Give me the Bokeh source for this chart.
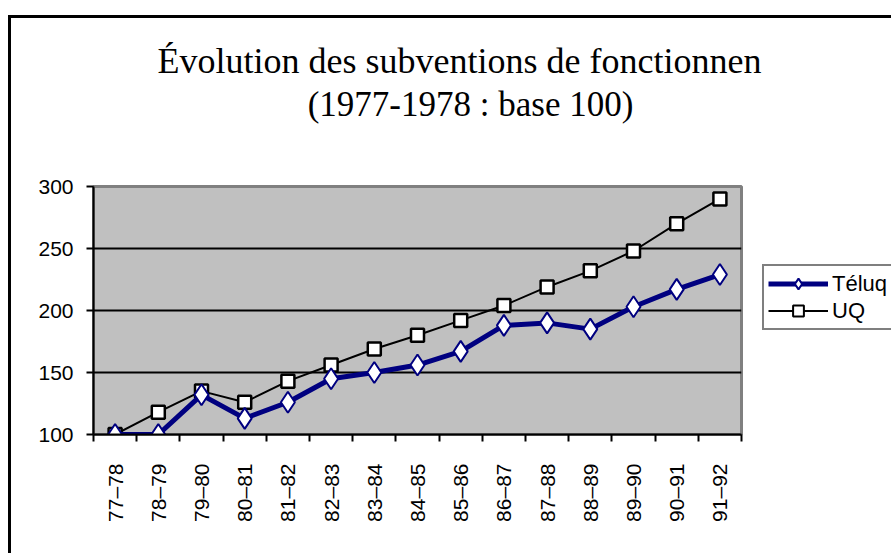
import math
from bokeh.plotting import figure
from bokeh.layouts import column, row
from bokeh.models import (FixedTicker, Legend, LegendItem, Label,
                          ColumnDataSource, Range1d)
from bokeh.embed import file_html
from bokeh.resources import INLINE

# ---- data ----
categories = ["77–78", "78–79", "79–80", "80–81", "81–82", "82–83", "83–84",
              "84–85", "85–86", "86–87", "87–88", "88–89", "89–90", "90–91", "91–92"]
teluq = [100, 100, 132, 113, 126, 145, 150, 156, 167, 188, 190, 185, 203, 217, 229]
uq = [100, 118, 135, 126, 143, 156, 169, 180, 192, 204, 219, 232, 248, 270, 290]
y_ticks = [100, 150, 200, 250, 300]
series_names = ["Téluq", "UQ"]
title_line1 = "Évolution des subventions de fonctionnen"
title_line2 = "(1977-1978 : base 100)"

NAVY = "#000080"
W, H = 891, 553
TOP_H = 170          # height of the title strip
MAIN_W = 750         # width of the plotting figure
B_TOP, B_BOT = 186 - TOP_H, 553 - 434   # plot-area borders inside the lower row

def bare(width, height, top=0, bottom=0):
    f = figure(width=width, height=height, output_backend="svg", toolbar_location=None,
               x_range=Range1d(0, width), y_range=Range1d(height - top - bottom, 0),
               x_axis_location=None, y_axis_location=None,
               min_border_left=0, min_border_right=0,
               min_border_top=top, min_border_bottom=bottom)
    f.grid.visible = False
    f.outline_line_color = None
    f.background_fill_alpha = 0
    f.border_fill_alpha = 0
    return f

# ---- title strip ----
top = bare(W, TOP_H)
top.add_layout(Label(x=157, y=60, text=title_line1, text_font="Liberation Serif",
                     text_font_size="36px", text_color="black",
                     text_align="left", text_baseline="alphabetic"))
top.add_layout(Label(x=470, y=104, text=title_line2, text_font="Liberation Serif",
                     text_font_size="35px", text_color="black",
                     text_align="center", text_baseline="alphabetic"))

# ---- main plot ----
xpos = [i + 0.5 for i in range(len(categories))]
src = ColumnDataSource(dict(x=xpos, teluq=teluq, uq=uq))

p = figure(width=MAIN_W, height=H - TOP_H, output_backend="svg", toolbar_location=None,
           x_range=Range1d(0, len(categories)), y_range=Range1d(100, 300),
           min_border_left=93, min_border_right=9, min_border_top=B_TOP,
           min_border_bottom=B_BOT)
p.background_fill_color = "#C0C0C0"
p.border_fill_alpha = 0
p.outline_line_color = "#808080"
p.outline_line_width = 3

p.xgrid.visible = False
p.ygrid.ticker = FixedTicker(ticks=y_ticks[1:-1])
p.ygrid.grid_line_color = "black"
p.ygrid.grid_line_width = 2

ya = p.yaxis[0]
ya.ticker = FixedTicker(ticks=y_ticks)
ya.axis_line_color = "black"
ya.axis_line_width = 2
ya.major_tick_line_width = 2
ya.major_tick_out = 7
ya.major_tick_in = 0
ya.minor_tick_line_color = None
ya.major_label_text_font = "Liberation Sans"
ya.major_label_text_font_size = "21px"
ya.major_label_text_color = "black"
ya.major_label_standoff = 13

xa = p.xaxis[0]
xa.ticker = FixedTicker(ticks=xpos, minor_ticks=list(range(len(categories) + 1)))
xa.major_label_overrides = {x: c for x, c in zip(xpos, categories)}
xa.major_tick_line_color = None
xa.major_tick_out = 0
xa.minor_tick_line_color = "black"
xa.minor_tick_line_width = 2
xa.minor_tick_out = 7
xa.minor_tick_in = 0
xa.axis_line_color = "black"
xa.axis_line_width = 2
xa.major_label_orientation = math.pi / 2
xa.major_label_text_font = "Liberation Sans"
xa.major_label_text_font_size = "21px"
xa.major_label_text_color = "black"
xa.major_label_standoff = 22

p.line("x", "uq", source=src, line_color="black", line_width=2)
p.scatter("x", "uq", source=src, marker="square", size=13,
          fill_color="white", line_color="black", line_width=2.5)
p.line("x", "teluq", source=src, line_color=NAVY, line_width=5)
p.scatter("x", "teluq", source=src, marker="diamond", size=21,
          fill_color="white", line_color=NAVY, line_width=2)

# ---- legend strip (right of the plot, same plot-area rows) ----
lg = bare(W - MAIN_W, H - TOP_H, top=B_TOP, bottom=B_BOT)
offscreen = ColumnDataSource(dict(x=[-1000], y=[-1000]))
l_te = lg.line("x", "y", source=offscreen, line_color=NAVY, line_width=5)
s_te = lg.scatter("x", "y", source=offscreen, marker="diamond", fill_color="white",
                  line_color=NAVY, line_width=2)
l_uq = lg.line("x", "y", source=offscreen, line_color="black", line_width=2)
s_uq = lg.scatter("x", "y", source=offscreen, marker="square", fill_color="white",
                  line_color="black", line_width=2)
LEG_TOP, LEG_H = 268, 62
legend = Legend(items=[LegendItem(label=series_names[0], renderers=[l_te, s_te]),
                       LegendItem(label=series_names[1], renderers=[l_uq, s_uq])],
                location=(762 - MAIN_W, 434 - (LEG_TOP + LEG_H)), orientation="vertical",
                glyph_width=60, glyph_height=27, label_height=27, label_width=75,
                label_standoff=4, padding=4, spacing=0, margin=0,
                border_line_color="black", border_line_width=2,
                background_fill_color="white", background_fill_alpha=1,
                label_text_font="Liberation Sans", label_text_font_size="22px",
                label_text_color="black")
lg.add_layout(legend, "center")

layout = column(top, row(p, lg, spacing=0), spacing=0)
# outer chart border: left and top edges are visible in the crop
layout.styles = {
    "background-color": "white",
    "background-image": "linear-gradient(#000, #000), linear-gradient(#000, #000)",
    "background-size": "3px 1000px, 2000px 3px",
    "background-position": "8px 15px, 8px 15px",
    "background-repeat": "no-repeat",
}

open("out.html", "w").write(file_html(layout, INLINE))
